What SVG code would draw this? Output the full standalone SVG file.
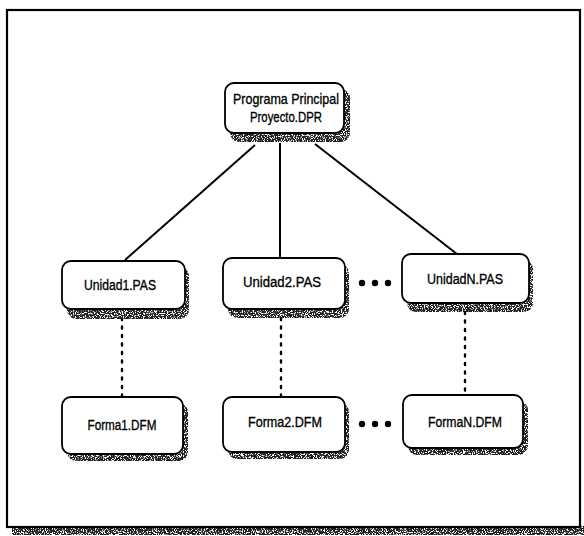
<svg xmlns="http://www.w3.org/2000/svg" width="584" height="536" viewBox="0 0 584 536">
  <defs>
    <!-- speckled texture for the drop shadows -->
    <filter id="grain" x="0" y="0" width="100%" height="100%">
      <feTurbulence type="fractalNoise" baseFrequency="0.9" numOctaves="2" seed="3" result="noise"/>
      <feColorMatrix in="noise" type="matrix" values="0 0 0 0 0  0 0 0 0 0  0 0 0 0 0  0 0 0 9 -3.4" result="mask"/>
      <feComposite in="SourceGraphic" in2="mask" operator="in"/>
    </filter>
    <style>
      .frame { fill: #fff; stroke: #000; stroke-width: 2.2; }
      .box { fill: #fff; stroke: #000; stroke-width: 1.8; }
      .shadow { fill: #222; filter: url(#grain); }
      .edge { stroke: #000; stroke-width: 2; fill: none; }
      .dotted { stroke: #000; stroke-width: 2.4; fill: none; stroke-dasharray: 2 6.5; stroke-linecap: round; }
      .ellipsis { fill: #000; }
      .lbl { font-family: "Liberation Sans", Arial, sans-serif; font-size: 15.5px; fill: #000; text-anchor: middle; stroke: #000; stroke-width: 0.35; }
    </style>
  </defs>

  <rect width="584" height="536" fill="#fff"/>

  <!-- outer frame with its shadow -->
  <rect x="12" y="526" width="572" height="9" class="shadow"/>
  <rect x="7" y="10" width="573" height="517" class="frame"/>

  <!-- connectors -->
  <g id="connectors">
    <line class="edge" x1="255" y1="145" x2="125" y2="260"/>
    <line class="edge" x1="280" y1="143" x2="280" y2="258"/>
    <line class="edge" x1="315" y1="144" x2="457" y2="254"/>
    <line class="dotted" x1="122" y1="318" x2="122" y2="396"/>
    <line class="dotted" x1="281" y1="318" x2="281" y2="396"/>
    <line class="dotted" x1="465" y1="312" x2="465" y2="394"/>
    <circle class="ellipsis" cx="362" cy="283" r="3.2"/>
    <circle class="ellipsis" cx="375" cy="283" r="3.2"/>
    <circle class="ellipsis" cx="388" cy="283" r="3.2"/>
    <circle class="ellipsis" cx="362" cy="424" r="3.2"/>
    <circle class="ellipsis" cx="375" cy="424" r="3.2"/>
    <circle class="ellipsis" cx="388" cy="424" r="3.2"/>
  </g>

  <g id="programa">
    <rect class="shadow" x="230" y="89" width="120" height="53" rx="9"/>
    <rect class="box" x="225" y="83" width="119" height="50" rx="9"/>
    <text class="lbl" x="286" y="104" textLength="106" lengthAdjust="spacingAndGlyphs">Programa Principal</text>
    <text class="lbl" x="286" y="122" textLength="72" lengthAdjust="spacingAndGlyphs">Proyecto.DPR</text>
  </g>

  <g id="unidad1">
    <rect class="shadow" x="67" y="267" width="122" height="52" rx="9"/>
    <rect class="box" x="62" y="261" width="123" height="48" rx="9"/>
    <text class="lbl" x="120" y="290" textLength="72" lengthAdjust="spacingAndGlyphs">Unidad1.PAS</text>
  </g>

  <g id="unidad2">
    <rect class="shadow" x="228" y="264" width="121" height="54" rx="9"/>
    <rect class="box" x="223" y="258" width="122" height="51" rx="9"/>
    <text class="lbl" x="282" y="287" textLength="78" lengthAdjust="spacingAndGlyphs">Unidad2.PAS</text>
  </g>

  <g id="unidadN">
    <rect class="shadow" x="407" y="260" width="126" height="52" rx="9"/>
    <rect class="box" x="402" y="254" width="127" height="49" rx="9"/>
    <text class="lbl" x="465" y="284" textLength="76" lengthAdjust="spacingAndGlyphs">UnidadN.PAS</text>
  </g>

  <g id="forma1">
    <rect class="shadow" x="67" y="403" width="121" height="58" rx="9"/>
    <rect class="box" x="62" y="397" width="121" height="57" rx="9"/>
    <text class="lbl" x="122" y="430" textLength="69" lengthAdjust="spacingAndGlyphs">Forma1.DFM</text>
  </g>

  <g id="forma2">
    <rect class="shadow" x="228" y="403" width="121" height="56" rx="9"/>
    <rect class="box" x="223" y="397" width="122" height="55" rx="9"/>
    <text class="lbl" x="285" y="427" textLength="74" lengthAdjust="spacingAndGlyphs">Forma2.DFM</text>
  </g>

  <g id="formaN">
    <rect class="shadow" x="408" y="401" width="120" height="54" rx="9"/>
    <rect class="box" x="403" y="395" width="120" height="53" rx="9"/>
    <text class="lbl" x="465" y="427" textLength="74" lengthAdjust="spacingAndGlyphs">FormaN.DFM</text>
  </g>
</svg>
